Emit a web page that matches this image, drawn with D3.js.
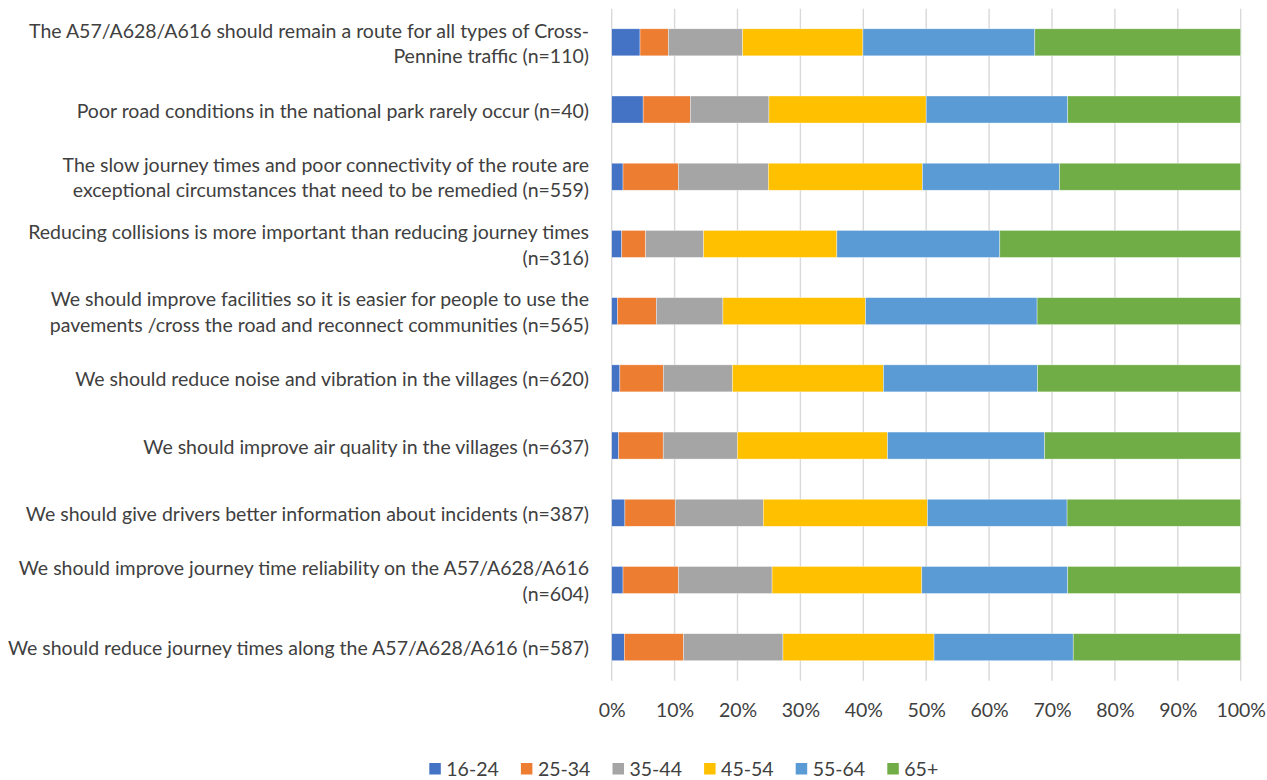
<!DOCTYPE html>
<html>
<head>
<meta charset="utf-8">
<script src="https://cdn.jsdelivr.net/npm/d3@7"></script>
<style>
  html, body { margin: 0; padding: 0; background: #fff; }
  svg { display: block; }
  text { font-family: Lato, "Open Sans", sans-serif; fill: #404040; }
</style>
</head>
<body>
<svg id="chart" width="1267" height="780"></svg>
<script>
// Survey statements (top to bottom); "\n" marks where a label wraps
const categories = [
  "The A57/A628/A616 should remain a route for all types of Cross-\nPennine traffic (n=110)",
  "Poor road conditions in the national park rarely occur (n=40)",
  "The slow journey times and poor connectivity of the route are\nexceptional circumstances that need to be remedied (n=559)",
  "Reducing collisions is more important than reducing journey times\n(n=316)",
  "We should improve facilities so it is easier for people to use the\npavements /cross the road and reconnect communities (n=565)",
  "We should reduce noise and vibration in the villages (n=620)",
  "We should improve air quality in the villages (n=637)",
  "We should give drivers better information about incidents (n=387)",
  "We should improve journey time reliability on the A57/A628/A616\n(n=604)",
  "We should reduce journey times along the A57/A628/A616 (n=587)"
];

// Age bands (series)
const ageGroups = ["16-24", "25-34", "35-44", "45-54", "55-64", "65+"];

// Share of respondents (%) per age band, one value per statement above
const age16to24 = [4.5, 5.0, 1.8, 1.6, 0.9, 1.3, 1.1, 2.1, 1.8, 2.0];
const age25to34 = [4.5, 7.5, 8.8, 3.8, 6.2, 6.9, 7.1, 8.0, 8.8, 9.4];
const age35to44 = [11.8, 12.5, 14.3, 9.2, 10.6, 11.0, 11.8, 14.0, 14.9, 15.8];
const age45to54 = [19.1, 25.0, 24.5, 21.2, 22.7, 24.0, 23.9, 26.1, 23.8, 24.0];
const age55to64 = [27.3, 22.5, 21.8, 25.9, 27.3, 24.5, 25.0, 22.2, 23.2, 22.1];
const age65plus = [32.7, 27.5, 28.8, 38.3, 32.4, 32.3, 31.2, 27.6, 27.5, 26.6];

// Axis tick values (fractions of 100%)
const tickValues = [0, 0.1, 0.2, 0.3, 0.4, 0.5, 0.6, 0.7, 0.8, 0.9, 1];

const colors = ["#4472C4", "#ED7D31", "#A5A5A5", "#FFC000", "#5B9BD5", "#70AD47"];

const seriesValues = [age16to24, age25to34, age35to44, age45to54, age55to64, age65plus];
const rows = categories.map((c, i) => {
  const r = { category: c };
  ageGroups.forEach((g, j) => { r[g] = seriesValues[j][i]; });
  return r;
});

const svg = d3.select("#chart");
const fontSize = 19.5;

const plot = { left: 611.7, right: 1240.7, top: 8.7, bottom: 680.8 };

const x = d3.scaleLinear().domain([0, 1]).range([plot.left, plot.right]);
const y = d3.scaleBand()
  .domain(categories)
  .range([plot.top, plot.bottom])
  .paddingInner(0.598)
  .paddingOuter(0.299);

const color = d3.scaleOrdinal().domain(ageGroups).range(colors);

const stack = d3.stack().keys(ageGroups).offset(d3.stackOffsetExpand);
const stacked = stack(rows);

// Vertical gridlines
svg.append("g")
  .selectAll("line")
  .data(tickValues)
  .join("line")
  .attr("x1", d => x(d)).attr("x2", d => x(d))
  .attr("y1", plot.top).attr("y2", plot.bottom)
  .attr("stroke", "#d9d9d9")
  .attr("stroke-width", 1.4);

// Stacked bars
svg.append("g")
  .selectAll("g")
  .data(stacked)
  .join("g")
  .attr("fill", d => color(d.key))
  .selectAll("rect")
  .data(d => d)
  .join("rect")
  .attr("x", d => x(d[0]))
  .attr("width", d => x(d[1]) - x(d[0]))
  .attr("y", d => y(d.data.category))
  .attr("height", y.bandwidth())
  .attr("stroke", "#ffffff")
  .attr("stroke-opacity", 0.6)
  .attr("stroke-width", 0.6);

// Category labels, right-aligned left of the plot
const lineGap = 25.5;
const labels = svg.append("g")
  .selectAll("text")
  .data(categories)
  .join("text")
  .attr("text-anchor", "end")
  .attr("font-size", fontSize)
  .attr("dominant-baseline", "central");

labels.each(function (d) {
  const lines = d.split("\n");
  const cy = y(d) + y.bandwidth() / 2;
  const t = d3.select(this);
  lines.forEach((ln, k) => {
    t.append("tspan")
      .attr("x", 589)
      .attr("y", cy + (k - (lines.length - 1) / 2) * lineGap)
      .text(ln);
  });
});

// Percentage axis
const xAxis = d3.axisBottom(x)
  .tickValues(tickValues)
  .tickFormat(d3.format(".0%"))
  .tickSize(0)
  .tickPadding(0);

const ax = svg.append("g")
  .attr("transform", `translate(0, 709)`)
  .call(xAxis);
ax.select(".domain").remove();
ax.selectAll("text")
  .attr("font-size", fontSize)
  .attr("dy", null)
  .attr("dominant-baseline", "central")
  .style("font-family", "Lato, 'Open Sans', sans-serif")
  .attr("fill", "#404040");

// Legend
const legendStart = 429.3;
const legendStep = 91.6;
const legend = svg.append("g")
  .selectAll("g")
  .data(ageGroups)
  .join("g")
  .attr("transform", (d, i) => `translate(${legendStart + i * legendStep}, 763)`);

legend.append("rect")
  .attr("width", 11.5)
  .attr("height", 11.5)
  .attr("fill", d => color(d));

legend.append("text")
  .attr("x", 17)
  .attr("y", 5)
  .attr("font-size", fontSize)
  .attr("dominant-baseline", "central")
  .text(d => d);
</script>
</body>
</html>
